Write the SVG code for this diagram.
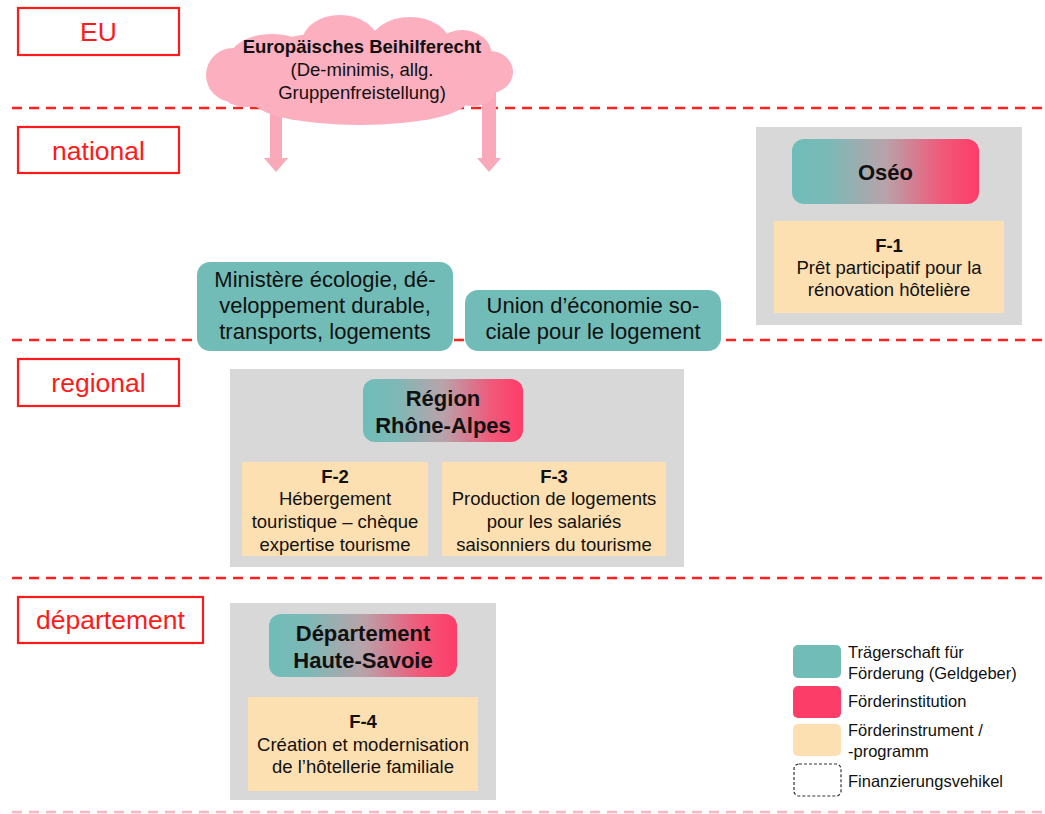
<svg xmlns="http://www.w3.org/2000/svg" width="1045" height="814" viewBox="0 0 1045 814">
<defs>
<linearGradient id="grad" x1="0" y1="0" x2="1" y2="0">
<stop offset="0" stop-color="#6fbdb9"/>
<stop offset="0.2" stop-color="#7cb9b6"/>
<stop offset="0.5" stop-color="#b8a3aa"/>
<stop offset="0.8" stop-color="#f0597a"/>
<stop offset="1" stop-color="#ff3c68"/>
</linearGradient>
</defs>
<style>
text{font-family:"Liberation Sans",Arial,sans-serif;fill:#111;}
.lvl{fill:#fff;stroke:#ff1a1a;stroke-width:2.2;}
.lvlt{font-size:26.5px;fill:#ff1a1a;text-anchor:middle;}
.sep{stroke:#ff2020;stroke-width:2.5;stroke-dasharray:10 7;fill:none;}
.grey{fill:#d8d8d8;}
.grad{fill:url(#grad);}
.prog{fill:#fde0b2;}
.teal{fill:#72bcb8;}
.t22{font-size:22px;text-anchor:middle;}
.b22{font-size:22px;font-weight:bold;text-anchor:middle;}
.t18{font-size:18.5px;text-anchor:middle;}
.b18{font-size:18.5px;font-weight:bold;text-anchor:middle;}
.leg{font-size:16.5px;}
.cloud{fill:#fbafbf;}
.arrow{fill:#f9a9ba;}
</style>

<g id="separators">
<line class="sep" x1="12" y1="108" x2="1042" y2="108"/>
<line class="sep" x1="12" y1="340" x2="1042" y2="340"/>
<line class="sep" x1="12" y1="578" x2="1042" y2="578"/>
<line class="sep" x1="12" y1="812" x2="1042" y2="812" style="stroke:#f6b8c2"/>
</g>

<g id="level-eu"><rect class="lvl" x="18" y="8" width="161" height="47"/><text class="lvlt" x="98.5" y="41">EU</text></g>
<g id="level-national"><rect class="lvl" x="18" y="127" width="161" height="46"/><text class="lvlt" x="98.5" y="160">national</text></g>
<g id="level-regional"><rect class="lvl" x="18" y="359" width="161" height="47"/><text class="lvlt" x="98.5" y="392">regional</text></g>
<g id="level-departement"><rect class="lvl" x="18" y="597" width="185" height="46"/><text class="lvlt" x="110.5" y="629">département</text></g>

<g id="connectors">
<path class="arrow" d="M270,100 H282 V158 H288 L276,172 L264,158 H270 Z"/>
<path class="arrow" d="M482,88 H496 V158 H501 L489,172 L477,158 H482 Z"/>
</g>

<g id="cloud-eu">
<g class="cloud">
<ellipse cx="360" cy="75" rx="130" ry="45"/>
<ellipse cx="340" cy="42" rx="38" ry="27"/>
<ellipse cx="410" cy="44" rx="40" ry="27"/>
<ellipse cx="272" cy="58" rx="42" ry="24"/>
<ellipse cx="462" cy="55" rx="30" ry="25"/>
<ellipse cx="490" cy="72" rx="23" ry="21"/>
<ellipse cx="233" cy="75" rx="27" ry="27"/>
<ellipse cx="247" cy="94" rx="24" ry="13"/>
<ellipse cx="360" cy="100" rx="108" ry="25"/>
<ellipse cx="473" cy="92" rx="22" ry="14"/>
</g>
<text class="b18" x="362" y="53">Europäisches Beihilferecht</text>
<text class="t18" x="362" y="76">(De-minimis, allg.</text>
<text class="t18" x="362" y="99">Gruppenfreistellung)</text>
</g>

<g id="ministere">
<rect class="teal" x="197" y="262" width="256" height="89" rx="13"/>
<text class="t22" x="325" y="287">Ministère écologie, dé-</text>
<text class="t22" x="325" y="313">veloppement durable,</text>
<text class="t22" x="325" y="339">transports, logements</text>
</g>

<g id="union">
<rect class="teal" x="465" y="290" width="256" height="61" rx="13"/>
<text class="t22" x="593" y="313">Union d’économie so-</text>
<text class="t22" x="593" y="339">ciale pour le logement</text>
</g>

<g id="oseo">
<rect class="grey" x="756" y="127" width="266" height="198"/>
<rect class="grad" x="792" y="139" width="187" height="65" rx="12"/>
<text class="b22" x="885.5" y="180">Oséo</text>
<rect class="prog" x="774" y="221" width="230" height="92"/>
<text class="b18" x="889" y="252">F-1</text>
<text class="t18" x="889" y="274">Prêt participatif pour la</text>
<text class="t18" x="889" y="296">rénovation hôtelière</text>
</g>

<g id="region">
<rect class="grey" x="230" y="369" width="454" height="198"/>
<rect class="grad" x="363" y="379" width="160" height="63" rx="12"/>
<text class="b22" x="443" y="406">Région</text>
<text class="b22" x="443" y="433">Rhône-Alpes</text>
<rect class="prog" x="242" y="462" width="186" height="94"/>
<text class="b18" x="335" y="483">F-2</text>
<text class="t18" x="335" y="505">Hébergement</text>
<text class="t18" x="335" y="528">touristique – chèque</text>
<text class="t18" x="335" y="551">expertise tourisme</text>
<rect class="prog" x="442" y="462" width="224" height="94"/>
<text class="b18" x="554" y="483">F-3</text>
<text class="t18" x="554" y="505">Production de logements</text>
<text class="t18" x="554" y="528">pour les salariés</text>
<text class="t18" x="554" y="551">saisonniers du tourisme</text>
</g>

<g id="departement">
<rect class="grey" x="230" y="603" width="266" height="197"/>
<rect class="grad" x="269" y="614" width="188" height="63" rx="12"/>
<text class="b22" x="363" y="641">Département</text>
<text class="b22" x="363" y="668">Haute-Savoie</text>
<rect class="prog" x="248" y="697" width="230" height="94"/>
<text class="b18" x="363" y="728">F-4</text>
<text class="t18" x="363" y="751">Création et modernisation</text>
<text class="t18" x="363" y="773">de l’hôtellerie familiale</text>
</g>

<g id="legend">
<rect class="teal" x="793" y="645" width="48" height="33" rx="5"/>
<text class="leg" x="848" y="658">Trägerschaft für</text>
<text class="leg" x="848" y="679">Förderung (Geldgeber)</text>
<rect x="793" y="686" width="48" height="32" rx="5" fill="#fb3d67"/>
<text class="leg" x="848" y="707">Förderinstitution</text>
<rect class="prog" x="793" y="724" width="48" height="32" rx="5"/>
<text class="leg" x="848" y="736">Förderinstrument /</text>
<text class="leg" x="848" y="757">-programm</text>
<rect x="794" y="764" width="47" height="32" rx="5" fill="#fff" stroke="#333" stroke-width="1.2" stroke-dasharray="3 2"/>
<text class="leg" x="848" y="787">Finanzierungsvehikel</text>
</g>
</svg>
